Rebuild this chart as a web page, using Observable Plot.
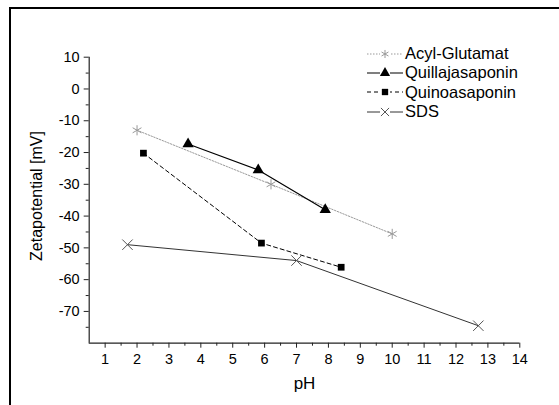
<!DOCTYPE html>
<html>
<head>
<meta charset="utf-8">
<script src="https://cdn.jsdelivr.net/npm/d3@7"></script>
<script src="https://cdn.jsdelivr.net/npm/@observablehq/plot@0.6"></script>
<style>
  html, body { margin: 0; padding: 0; background: #fff; overflow: hidden; }
  body { width: 559px; height: 405px; position: relative; font-family: "Liberation Sans", Arial, sans-serif; }
  #chart { position: absolute; left: 0; top: 0; }
  #legend { position: absolute; left: 367px; top: 44px; font-size: 16.5px; color: #000; }
  #legend .row { display: flex; align-items: center; height: 19.3px; }
  #legend svg { margin-right: 2px; }
</style>
</head>
<body>
<div id="chart"></div>
<div id="legend"></div>
<script>
// Zeta potential of surfactant solutions as a function of pH
const series = ["Acyl-Glutamat", "Quillajasaponin", "Quinoasaponin", "SDS"];
const acylPH = [2.0, 6.2, 10.0];
const acylZeta = [-13, -30, -45.6];
const quillajaPH = [3.6, 5.8, 7.9];
const quillajaZeta = [-17.3, -25.5, -38];
const quinoaPH = [2.2, 5.9, 8.4];
const quinoaZeta = [-20.2, -48.5, -56.1];
const sdsPH = [1.7, 7.0, 12.7];
const sdsZeta = [-49, -54, -74.5];

const xTicks = d3.range(1, 15);
const xMinor = d3.range(1.5, 14, 1);
const yTicks = d3.range(-70, 11, 10);
const yMinor = d3.range(-75, 10, 10);

// Styling per series: line colour, dash pattern, marker symbol, marker colour
const styles = {
  "Acyl-Glutamat": {stroke: "#999", dash: "1.5,1.5", width: 1, symbol: "asterisk", mark: "#999", filled: false},
  "Quillajasaponin": {stroke: "#000", dash: null, width: 1.2, symbol: "triangle", mark: "#000", filled: true},
  "Quinoasaponin": {stroke: "#000", dash: "4,3", width: 1, symbol: "square", mark: "#000", filled: true},
  "SDS": {stroke: "#333", dash: null, width: 1, symbol: "times", mark: "#555", filled: false}
};

const pairs = [[acylPH, acylZeta], [quillajaPH, quillajaZeta], [quinoaPH, quinoaZeta], [sdsPH, sdsZeta]];
const data = series.flatMap((name, i) =>
  pairs[i][0].map((ph, j) => ({series: name, ph, zeta: pairs[i][1][j]}))
);

const markSize = {asterisk: 4.8, triangle: 4.2, square: 3.8, times: 4.8};

const marks = [];
for (const name of series) {
  const s = styles[name];
  const d = data.filter(r => r.series === name);
  marks.push(Plot.line(d, {x: "ph", y: "zeta", stroke: s.stroke, strokeWidth: s.width, strokeDasharray: s.dash}));
  marks.push(Plot.dot(d, {
    x: "ph", y: "zeta", symbol: () => s.symbol,
    r: markSize[s.symbol],
    fill: s.filled ? s.mark : "none",
    stroke: s.filled ? "none" : s.mark,
    strokeWidth: 1
  }));
}

const noLabel = () => "";

const chart = Plot.plot({
  width: 559,
  height: 405,
  marginLeft: 88.7,
  marginTop: 56.7,
  marginRight: 39.7,
  marginBottom: 62.3,
  style: {fontFamily: "Liberation Sans, Arial, sans-serif", fontSize: "14.5px", color: "#000", background: "transparent"},
  x: {domain: [0.5, 14]},
  y: {domain: [-80, 10]},
  symbol: {type: "identity"},
  marks: [
    Plot.axisX({ticks: xTicks, tickSize: 5, tickPadding: 6, tickFormat: d => String(d), label: "pH", labelAnchor: "center", labelArrow: "none", labelOffset: 46, stroke: "#222", fontSize: 14.5}),
    Plot.axisX({ticks: xMinor, tickSize: 3, tickFormat: noLabel, label: null, stroke: "#222"}),
    Plot.axisY({ticks: yTicks, tickSize: 5, tickPadding: 4.5, tickFormat: d => String(d), label: null, stroke: "#222", fontSize: 14.5}),
    Plot.axisY({ticks: yMinor, tickSize: 3, tickFormat: noLabel, label: null, stroke: "#222"}),
    Plot.ruleX([0.5], {stroke: "#222", strokeWidth: 1.2}),
    Plot.ruleY([-80], {stroke: "#222", strokeWidth: 1.2}),
    ...marks
  ]
});
document.getElementById("chart").appendChild(chart);

const svg = d3.select(chart);

// Page frame: top and left edges of the figure box
svg.append("path")
  .attr("d", "M10,405V8H559")
  .attr("fill", "none")
  .attr("stroke", "#000")
  .attr("stroke-width", 2);

// Axis titles in the figure's type sizes
svg.selectAll("text").filter(function () { return d3.select(this).text() === "pH"; })
  .attr("font-size", 17).style("font-size", "17px");
svg.append("text")
  .attr("transform", "translate(42,196) rotate(-90)")
  .attr("text-anchor", "middle")
  .style("font-size", "16px")
  .style("font-family", "Liberation Sans, Arial, sans-serif")
  .text("Zetapotential [mV]");

// Legend: line sample with marker, then the series name
const legend = d3.select("#legend");
for (const name of series) {
  const s = styles[name];
  const row = legend.append("div").attr("class", "row");
  const sw = row.append("svg").attr("width", 36).attr("height", 12);
  sw.append("line").attr("x1", 0).attr("x2", 36).attr("y1", 6).attr("y2", 6)
    .attr("stroke", s.stroke)
    .attr("stroke-width", s.width)
    .attr("stroke-dasharray", s.dash);
  const sym = {asterisk: d3.symbolAsterisk, triangle: d3.symbolTriangle, square: d3.symbolSquare, times: d3.symbolTimes}[s.symbol];
  sw.append("rect").attr("x", 13).attr("y", 0).attr("width", 10).attr("height", 12).attr("fill", "#fff");
  sw.append("path").attr("transform", "translate(18,6)")
    .attr("d", d3.symbol(sym, s.symbol === "square" ? 40 : 45)())
    .attr("fill", s.filled ? s.mark : "none")
    .attr("stroke", s.filled ? "none" : s.mark);
  row.append("span").text(name);
}
</script>
</body>
</html>
